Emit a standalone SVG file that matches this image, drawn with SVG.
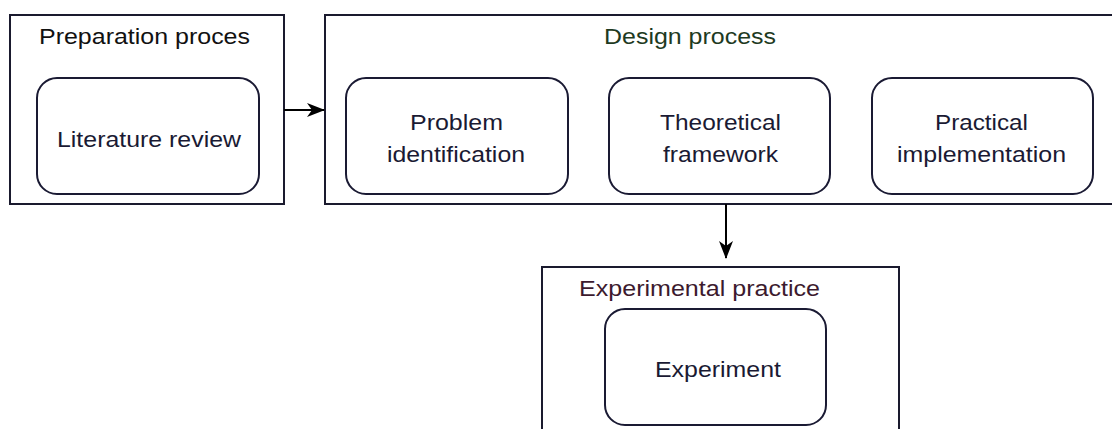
<svg xmlns="http://www.w3.org/2000/svg" width="1112" height="429" viewBox="0 0 1112 429">
<style>
.container{fill:#fff;stroke:#1a1a2e;stroke-width:2}
.node{fill:#fff;stroke:#1a1a33;stroke-width:2}
text{font-family:"Liberation Sans",Arial,sans-serif;font-size:22px;fill:#1a1a33}
.t1{fill:#111}
.t2{fill:#1e3a22}
.t3{fill:#3c1a2e}
.conn{stroke:#000;stroke-width:2;fill:none}
</style>
<defs>
<marker id="arr" markerWidth="18" markerHeight="14" refX="17" refY="7" orient="auto" markerUnits="userSpaceOnUse">
<path d="M0,0 L18,7 L0,14 L5,7 Z" fill="#000"/>
</marker>
</defs>
<rect width="1112" height="429" fill="#fff"/>
<g id="preparation">
<rect class="container" x="10" y="15" width="274" height="189"/>
<text class="t1" x="39" y="44" textLength="211" lengthAdjust="spacingAndGlyphs">Preparation proces</text>
</g>
<g id="literature-review">
<rect class="node" x="37" y="78" width="222" height="116" rx="20"/>
<text x="57" y="147" textLength="184" lengthAdjust="spacingAndGlyphs">Literature review</text>
</g>
<g id="design">
<rect class="container" x="325" y="15" width="800" height="189"/>
<text class="t2" x="604" y="44" textLength="172" lengthAdjust="spacingAndGlyphs">Design process</text>
</g>
<g id="problem-identification">
<rect class="node" x="346" y="78" width="222" height="116" rx="20"/>
<text x="410" y="130" textLength="93" lengthAdjust="spacingAndGlyphs">Problem</text>
<text x="387" y="162" textLength="138" lengthAdjust="spacingAndGlyphs">identification</text>
</g>
<g id="theoretical-framework">
<rect class="node" x="609" y="78" width="221" height="116" rx="20"/>
<text x="660" y="130" textLength="121" lengthAdjust="spacingAndGlyphs">Theoretical</text>
<text x="663" y="162" textLength="115" lengthAdjust="spacingAndGlyphs">framework</text>
</g>
<g id="practical-implementation">
<rect class="node" x="872" y="78" width="221" height="116" rx="20"/>
<text x="935" y="130" textLength="93" lengthAdjust="spacingAndGlyphs">Practical</text>
<text x="897" y="162" textLength="169" lengthAdjust="spacingAndGlyphs">implementation</text>
</g>
<g id="experimental-practice">
<rect class="container" x="542" y="267" width="357" height="180"/>
<text class="t3" x="579" y="296" textLength="241" lengthAdjust="spacingAndGlyphs">Experimental practice</text>
</g>
<g id="experiment">
<rect class="node" x="605" y="309" width="221" height="116" rx="20"/>
<text x="655" y="377" textLength="126" lengthAdjust="spacingAndGlyphs">Experiment</text>
</g>
<g id="connectors">
<path class="conn" d="M284,110 L324,110" marker-end="url(#arr)"/>
<path class="conn" d="M726,204 L726,258" marker-end="url(#arr)"/>
</g>
</svg>
